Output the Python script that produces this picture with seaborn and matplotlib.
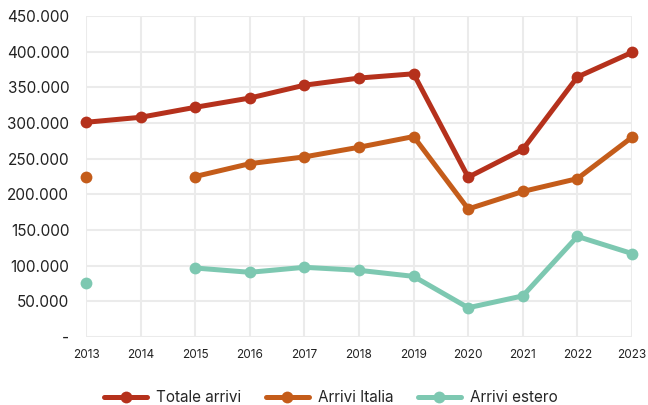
import numpy as np
import pandas as pd
import matplotlib
matplotlib.use("Agg")
import matplotlib.pyplot as plt
import seaborn as sns
from matplotlib.ticker import FuncFormatter, MultipleLocator

years = [2013, 2014, 2015, 2016, 2017, 2018, 2019, 2020, 2021, 2022, 2023]
totale_arrivi = [301000, 308000, 322000, 335000, 353000, 363000, 369000, 224000, 263000, 364500, 399000]
arrivi_italia = [224000, np.nan, 225000, 243000, 252500, 266000, 281000, 179500, 204000, 222000, 280000]
arrivi_estero = [76000, np.nan, 96700, 90700, 97700, 93500, 85000, 41000, 57600, 141000, 117000]

series_names = ["Totale arrivi", "Arrivi Italia", "Arrivi estero"]
series_values = [totale_arrivi, arrivi_italia, arrivi_estero]
palette = ["#b5311c", "#c45c1a", "#7dc8b1"]

# Long-form table; a gap (NaN) starts a new segment so lines break there
rows = []
for name, vals in zip(series_names, series_values):
    seg = 0
    for y, v in zip(years, vals):
        if v is None or (isinstance(v, float) and np.isnan(v)):
            seg += 1
            continue
        rows.append({"anno": y, "arrivi": v, "serie": name, "tratto": f"{name}-{seg}"})
df = pd.DataFrame(rows)

sns.set_theme(style="white")
plt.rcParams["font.family"] = ["Inter", "DejaVu Sans"]

fig = plt.figure(figsize=(6.48, 4.05), dpi=100)
ax = fig.add_axes([86 / 648, 1 - 337 / 405, (632 - 86) / 648, (337 - 16) / 405])

sns.lineplot(
    data=df, x="anno", y="arrivi", hue="serie", units="tratto", estimator=None,
    hue_order=series_names, palette=palette, marker="o", markersize=8.5,
    markeredgewidth=0, linewidth=3.6, ax=ax, clip_on=False, legend=True,
)

ax.set_xlim(2013, 2023)
ax.set_ylim(0, 450000)
ax.set_xticks(years)
ax.yaxis.set_major_locator(MultipleLocator(50000))

def ita_fmt(v, pos):
    if v == 0:
        return "-"
    return f"{int(round(v)):,}".replace(",", ".")

ax.yaxis.set_major_formatter(FuncFormatter(ita_fmt))
ax.tick_params(axis="y", labelsize=11, colors="#222222", length=0, pad=12)
ax.tick_params(axis="x", labelsize=8.5, colors="#222222", length=0, pad=9)
ax.grid(True, color="#ebebeb", linewidth=1.5)
ax.set_axisbelow(True)
for s in ax.spines.values():
    s.set_visible(False)
ax.set_xlabel("")
ax.set_ylabel("")

handles, labels = ax.get_legend_handles_labels()
ax.legend(
    handles, labels, loc="center", bbox_to_anchor=(331 / 648, 1 - 397.5 / 405),
    bbox_transform=fig.transFigure, ncol=3, frameon=False, fontsize=11,
    handlelength=2.8, handletextpad=0.6, columnspacing=1.6, borderpad=0,
)

fig.savefig("out.png", dpi=100)
